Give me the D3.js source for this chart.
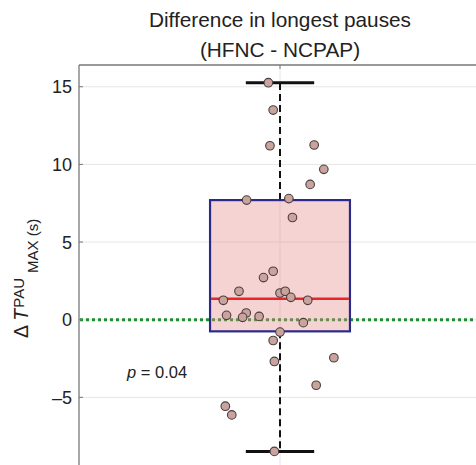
<!DOCTYPE html>
<html><head><meta charset="utf-8">
<script src="https://cdn.jsdelivr.net/npm/d3@7"></script>
<style>body{margin:0;background:#fff}svg{display:block}text{font-family:"Liberation Sans",Arial,Helvetica,sans-serif;fill:#222}</style>
</head><body><div id="chart"></div>
<script>
// ---- data ----
const category = ["HFNC - NCPAP"];
const values = [15.26, 13.5, 11.2, 11.25, 9.68, 8.71, 7.7, 7.8, 6.58, 3.12, 2.71, 1.83, 1.72, 1.83, 1.44, 1.25, 1.25, 0.28, 0.43, 0.15, 0.21, -0.19, -0.8, -1.34, -2.69, -2.45, -4.22, -5.57, -6.13, -8.48];
const jitter = [-0.029, -0.017, -0.025, 0.085, 0.109, 0.075, -0.083, 0.022, 0.031, -0.017, -0.041, -0.102, 0.0, 0.013, 0.027, -0.141, 0.069, -0.133, -0.084, -0.093, -0.052, 0.058, 0.0, -0.017, -0.014, 0.134, 0.09, -0.136, -0.12, -0.014];
const boxStats = [-8.48, -0.75, 1.35, 7.7, 15.26]; // whisker low, q1, median, q3, whisker high
const yTicks = [-5, 0, 5, 10, 15];
const yTickLabels = ["–5", "0", "5", "10", "15"];
const refLine = [0];
const pText = "0.04";

(function () {
const W = 476, H = 465;
const svg = d3.select("#chart").append("svg").attr("width", W).attr("height", H);
const mLeft = 79, mTop = 65, mRight = 477;
const x = d3.scaleLinear().domain([0.5, 1.5]).range([mLeft, mLeft + 402]);
const y = d3.scaleLinear().domain([-10, 16.4]).range([475, mTop]);
const cx = x(1);

// grid
const g = svg.append("g");
g.selectAll(".hg").data(yTicks).join("line")
  .attr("x1", mLeft).attr("x2", mRight).attr("y1", d => y(d)).attr("y2", d => y(d))
  .attr("stroke", "#e6e6e6").attr("stroke-width", 1);
g.append("line").attr("x1", cx).attr("x2", cx).attr("y1", mTop).attr("y2", H + 10)
  .attr("stroke", "#e6e6e6").attr("stroke-width", 1);

// reference line at 0
g.selectAll(".ref").data(refLine).join("line")
  .attr("x1", mLeft + 1).attr("x2", W).attr("y1", d => y(d)).attr("y2", d => y(d))
  .attr("stroke", "#1f8c30").attr("stroke-width", 3).attr("stroke-dasharray", "3,3");

// whiskers
const bw = 0.348, cw = 0.17;
const [wl, q1, med, q3, wh] = boxStats;
g.append("line").attr("x1", cx).attr("x2", cx).attr("y1", y(q3)).attr("y2", y(wh))
  .attr("stroke", "#111").attr("stroke-width", 2).attr("stroke-dasharray", "7,4");
g.append("line").attr("x1", cx).attr("x2", cx).attr("y1", y(q1)).attr("y2", y(wl))
  .attr("stroke", "#111").attr("stroke-width", 2).attr("stroke-dasharray", "7,4");
[wl, wh].forEach(v => g.append("line").attr("x1", x(1 - cw / 2)).attr("x2", x(1 + cw / 2))
  .attr("y1", y(v)).attr("y2", y(v)).attr("stroke", "#111").attr("stroke-width", 3));

// box
g.append("rect").attr("x", x(1 - bw / 2)).attr("width", x(1 + bw / 2) - x(1 - bw / 2))
  .attr("y", y(q3)).attr("height", y(q1) - y(q3))
  .attr("fill", "rgba(232,140,140,0.38)").attr("stroke", "#2c2a88").attr("stroke-width", 2.2);
g.append("line").attr("x1", x(1 - bw / 2) + 1).attr("x2", x(1 + bw / 2) - 1)
  .attr("y1", y(med)).attr("y2", y(med)).attr("stroke", "#e8262a").attr("stroke-width", 2.5);

// points
g.selectAll(".pt").data(values).join("circle")
  .attr("cx", (d, i) => x(1 + jitter[i])).attr("cy", d => y(d)).attr("r", 4.3)
  .attr("fill", "#c9a39d").attr("stroke", "#4a3d3d").attr("stroke-width", 1.1);

// axes frame
svg.append("line").attr("x1", mLeft).attr("x2", mLeft).attr("y1", mTop).attr("y2", H + 5)
  .attr("stroke", "#8a8a8a").attr("stroke-width", 1.5);
svg.append("line").attr("x1", mLeft).attr("x2", W + 5).attr("y1", mTop).attr("y2", mTop)
  .attr("stroke", "#777").attr("stroke-width", 1.5);
svg.append("line").attr("x1", cx).attr("x2", cx).attr("y1", mTop).attr("y2", mTop + 4)
  .attr("stroke", "#777").attr("stroke-width", 1);
svg.selectAll(".yt").data(yTicks).join("line")
  .attr("x1", mLeft).attr("x2", mLeft + 4).attr("y1", d => y(d)).attr("y2", d => y(d))
  .attr("stroke", "#777").attr("stroke-width", 1);
svg.selectAll(".ytl").data(yTicks).join("text")
  .attr("x", mLeft - 7).attr("y", d => y(d)).attr("dy", "0.36em").attr("text-anchor", "end")
  .attr("font-size", 18).text((d, i) => yTickLabels[i]);

// title
const t = svg.append("text").attr("text-anchor", "middle").attr("font-size", 20.8);
t.append("tspan").attr("x", 280).attr("y", 27).text("Difference in longest pauses");
t.append("tspan").attr("x", 280).attr("y", 57).text("(" + category[0] + ")");

// y label
const yl = svg.append("text").attr("transform", "rotate(-90)").attr("x", -338).attr("y", 28).attr("font-size", 19.5);
yl.append("tspan").text("Δ ");
yl.append("tspan").attr("font-style", "italic").text("T");
yl.append("tspan").attr("font-size", 15).attr("dy", -4).attr("dx", 1).text("PAU");
yl.append("tspan").attr("font-size", 15).attr("dy", 14).attr("dx", 5).text("MAX (s)");

// p value
const pv = svg.append("text").attr("x", 127).attr("y", 378).attr("font-size", 16.5);
pv.append("tspan").attr("font-style", "italic").text("p");
pv.append("tspan").text(" = " + pText);
})();
</script></body></html>
